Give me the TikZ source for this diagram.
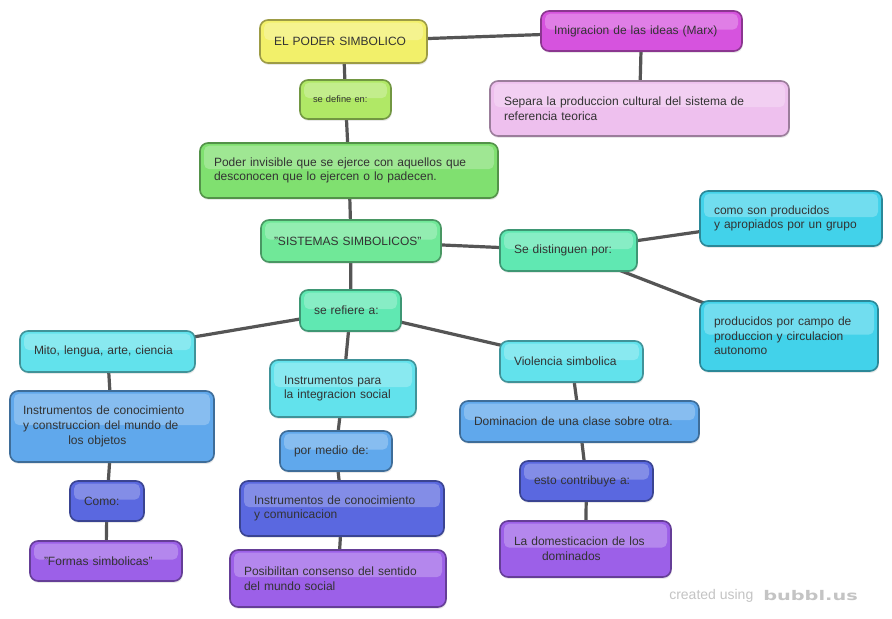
\documentclass[tikz,border=0pt]{standalone}
\usepackage{fontspec}
\setmainfont{Liberation Sans}
\newfontfamily\wmfont{DejaVu Sans}
\usepackage{graphicx}
\usetikzlibrary{backgrounds,shadows}
\definecolor{cYel}{HTML}{F2F06A}
\definecolor{cMag}{HTML}{D653DE}
\definecolor{cPnk}{HTML}{EEC0EE}
\definecolor{cLgr}{HTML}{B0E866}
\definecolor{cGrn}{HTML}{80E070}
\definecolor{cSis}{HTML}{70E898}
\definecolor{cTgr}{HTML}{60E8B2}
\definecolor{cCya}{HTML}{42D2EA}
\definecolor{cLcy}{HTML}{62E2EC}
\definecolor{cBlu}{HTML}{60A8EC}
\definecolor{cInd}{HTML}{5A68E0}
\definecolor{cPur}{HTML}{9C60E8}
\definecolor{txt}{HTML}{333333}
\definecolor{lnk}{HTML}{555555}
\definecolor{wm}{HTML}{C4C4C4}
\tikzset{
  bx/.style={rounded corners=6pt, fill=#1, draw=#1!65!black, line width=1.2pt,
    text=txt, align=left, font=\fontsize{9}{11}\selectfont,
    drop shadow={opacity=0.18, shadow xshift=0.6pt, shadow yshift=-1.4pt},
    path picture={\fill[white, opacity=0.25, rounded corners=4pt]
      ([xshift=3pt,yshift=-2pt]path picture bounding box.north west) rectangle
      ([xshift=-3pt,yshift=1pt]path picture bounding box.east);}},
  smalltext/.style={font=\fontsize{7}{8}\selectfont},
  conn/.style={draw=lnk, line width=2.4pt},
  wmtext/.style={text=wm, inner sep=0pt}
}
\newcommand\bnode[9][]{%
  \pgfmathsetmacro\tw{(#5-2*#7)*0.75}%
  \pgfmathsetmacro\mh{#6*0.75}%
  \pgfmathsetmacro\ix{#7*0.75}%
  \node[bx=#8, text width=\tw pt, inner xsep=\ix pt, inner ysep=2pt, minimum height=\mh pt, #1] (#2) at (#3,#4) {#9};}
\begin{document}
\begin{tikzpicture}[x=0.75pt,y=-0.75pt]
\useasboundingbox (0,0) rectangle (892,618);
\bnode{poder}{343.5}{41.5}{167}{43}{14}{cYel}{EL PODER SIMBOLICO}
\bnode{imig}{641.5}{31}{201}{40}{13}{cMag}{Imigracion de las ideas (Marx)}
\bnode{separa}{639.5}{108.5}{299}{55}{14}{cPnk}{Separa la produccion cultural del sistema de\\referencia teorica}
\bnode[smalltext]{define}{345.5}{99.5}{91}{39}{13}{cLgr}{se define en:}
\bnode{invis}{349}{170.5}{298}{55}{14}{cGrn}{Poder invisible que se ejerce con aquellos que\\desconocen que lo ejercen o lo padecen.}
\bnode{sist}{351}{241}{180}{42}{13}{cSis}{"SISTEMAS SIMBOLICOS"}
\bnode{dist}{568.5}{250.5}{137}{41}{14}{cTgr}{Se distinguen por:}
\bnode{como}{791}{218.5}{182}{55}{14}{cCya}{como son producidos\\y apropiados por un grupo}
\bnode{prodc}{789}{336}{178}{70}{14}{cCya}{producidos por campo de\\produccion y circulacion\\autonomo}
\bnode{refiere}{350.5}{310.5}{101}{41}{14}{cTgr}{se refiere a:}
\bnode{mito}{107.5}{351.5}{175}{41}{14}{cLcy}{Mito, lengua, arte, ciencia}
\bnode{instpara}{343}{388.5}{146}{57}{14}{cLcy}{Instrumentos para\\la integracion social}
\bnode{viol}{571.5}{361.5}{143}{41}{14}{cLcy}{Violencia simbolica}
\bnode{instcono}{112}{426.5}{204}{71}{13}{cBlu}{Instrumentos de conocimiento\\y construccion del mundo de\\\hspace*{34pt}los objetos}
\bnode{medio}{336}{451}{112}{40}{14}{cBlu}{por medio de:}
\bnode{domin}{579.5}{421.5}{239}{41}{14}{cBlu}{Dominacion de una clase sobre otra.}
\bnode{comoo}{107}{501}{74}{40}{14}{cInd}{Como:}
\bnode{instcom}{342}{508.5}{204}{55}{14}{cInd}{Instrumentos de conocimiento\\y comunicacion}
\bnode{esto}{586.5}{481}{133}{40}{14}{cInd}{esto contribuye a:}
\bnode{formas}{106}{561}{152}{40}{14}{cPur}{"Formas simbolicas"}
\bnode{posib}{338}{578.5}{216}{57}{14}{cPur}{Posibilitan consenso del sentido\\del mundo social}
\bnode{domest}{585.5}{549}{171}{56}{14}{cPur}{La domesticacion de los\\\hspace*{21pt}dominados}
\begin{pgfonlayer}{background}
\fill[white] (0,0) rectangle (892,618);
\draw[conn] (poder.center) -- (imig.center);
\draw[conn] (imig.center) -- (separa.center);
\draw[conn] (poder.center) -- (define.center);
\draw[conn] (define.center) -- (invis.center);
\draw[conn] (invis.center) -- (sist.center);
\draw[conn] (sist.center) -- (dist.center);
\draw[conn] (dist.center) -- (como.center);
\draw[conn] (dist.center) -- (prodc.center);
\draw[conn] (sist.center) -- (refiere.center);
\draw[conn] (refiere.center) -- (mito.center);
\draw[conn] (refiere.center) -- (instpara.center);
\draw[conn] (refiere.center) -- (viol.center);
\draw[conn] (mito.center) -- (instcono.center);
\draw[conn] (instcono.center) -- (comoo.center);
\draw[conn] (comoo.center) -- (formas.center);
\draw[conn] (instpara.center) -- (medio.center);
\draw[conn] (medio.center) -- (instcom.center);
\draw[conn] (instcom.center) -- (posib.center);
\draw[conn] (viol.center) -- (domin.center);
\draw[conn] (domin.center) -- (esto.center);
\draw[conn] (esto.center) -- (domest.center);
\end{pgfonlayer}
\node[wmtext, anchor=west, font=\fontsize{10.5}{11}\selectfont] (wm1) at (669,596) {created using};
\node[wmtext, anchor=west, font=\wmfont\bfseries\fontsize{10}{11}\selectfont] (wm2) at (763,596) {\scalebox{1.45}[1]{bubbl.us}};
\end{tikzpicture}
\end{document}
